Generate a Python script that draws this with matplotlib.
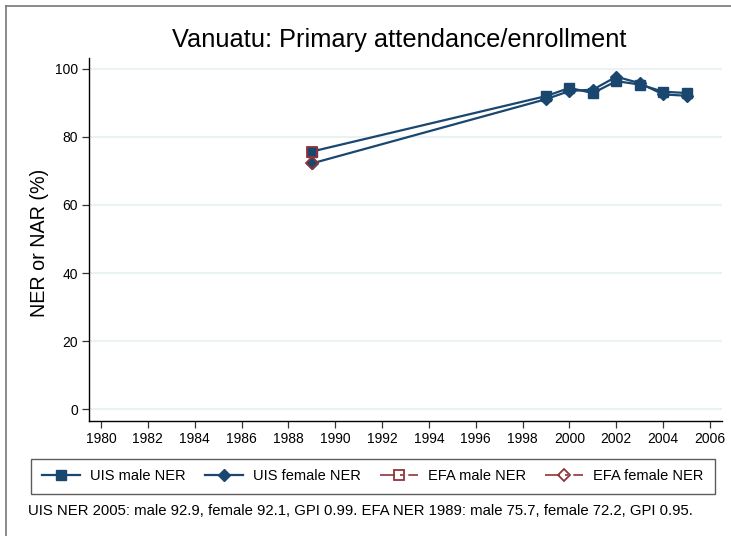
import matplotlib
matplotlib.use("Agg")
import matplotlib.pyplot as plt
from matplotlib.lines import Line2D

plt.rcParams['font.family'] = ['Liberation Sans', 'DejaVu Sans']

years_uis = [1989, 1999, 2000, 2001, 2002, 2003, 2004, 2005]
uis_male = [75.7, 92.0, 94.4, 92.9, 96.4, 95.4, 93.3, 92.9]
uis_female = [72.2, 91.1, 93.5, 93.9, 97.7, 95.8, 92.5, 92.1]
years_efa = [1989]
efa_male = [75.7]
efa_female = [72.2]

title = "Vanuatu: Primary attendance/enrollment"
ylabel = "NER or NAR (%)"
xticks = list(range(1980, 2007, 2))
yticks = [0, 20, 40, 60, 80, 100]
legend_labels = ["UIS male NER", "UIS female NER", "EFA male NER", "EFA female NER"]
note_a = "UIS NER 2005: male 92.9, female 92.1, GPI 0.99. "
note_b = "EFA NER 1989: male 75.7, female 72.2, GPI 0.95."

navy = "#1a476f"
maroon = "#90353b"
grid_c = "#eaf2f3"

W, H = 731, 536
fig = plt.figure(figsize=(W / 100, H / 100), dpi=100)
fig.patch.set_facecolor("white")

# outer frame (top and left edges visible)
fig.add_artist(Line2D([6 / W, 1.0], [1 - 5.5 / H, 1 - 5.5 / H], color="#777777", lw=1.2,
                      transform=fig.transFigure))
fig.add_artist(Line2D([6 / W, 6 / W], [0.0, 1 - 5.5 / H], color="#777777", lw=1.2,
                      transform=fig.transFigure))

ax = fig.add_axes([89 / W, 1 - 421 / H, (722 - 89) / W, (421 - 58) / H])
ax.set_xlim(1979.49, 2006.51)
ax.set_ylim(-3.5, 103.2)

efa_ls = (0, (9, 3, 2, 3))
ax.plot(years_uis, uis_male, color=navy, lw=1.6, marker="s", ms=7,
        mfc=navy, mec=navy, label=legend_labels[0], zorder=3)
ax.plot(years_uis, uis_female, color=navy, lw=1.6, marker="D", ms=6.5,
        mfc=navy, mec=navy, label=legend_labels[1], zorder=3)
ax.plot(years_efa, efa_male, color=maroon, lw=1.2, ls=efa_ls, marker="s", ms=7,
        mfc="none", mec=maroon, mew=1.3, label=legend_labels[2], zorder=4)
ax.plot(years_efa, efa_female, color=maroon, lw=1.2, ls=efa_ls, marker="D", ms=6.5,
        mfc="none", mec=maroon, mew=1.3, label=legend_labels[3], zorder=4)

ax.set_xticks(xticks)
ax.set_yticks(yticks)
ax.grid(axis="y", color=grid_c, lw=1.5, zorder=0)
ax.set_axisbelow(True)
for s in ["top", "right"]:
    ax.spines[s].set_visible(False)
for s in ["left", "bottom"]:
    ax.spines[s].set_linewidth(1.0)
    ax.spines[s].set_color("black")
ax.tick_params(axis="both", labelsize=10, length=5, width=0.9, color="#333333",
               labelcolor="black", pad=3)

renderer = fig.canvas.get_renderer()


def fit(t, target, horizontal=True):
    bb = t.get_window_extent(renderer=renderer)
    cur = bb.width if horizontal else bb.height
    t.set_fontsize(t.get_fontsize() * target / cur)


t_title = fig.text(399.4 / W, 1 - 47.5 / H, title, ha="center", va="baseline", fontsize=18)
fit(t_title, 453)

t_ylab = fig.text(40 / W, 1 - 243 / H, ylabel, ha="center", va="center",
                  rotation=90, fontsize=13)
fit(t_ylab, 148, horizontal=False)

leg = fig.legend(loc="center", bbox_to_anchor=(372.9 / W, 1 - 476.5 / H),
                 ncol=4, fontsize=10.5, frameon=True, fancybox=False,
                 edgecolor="#333333", handlelength=2.6, columnspacing=1.3,
                 handletextpad=0.7, borderpad=0.75)
leg.get_frame().set_linewidth(1.0)

probe = fig.text(28 / W, 1 - 511 / H, note_a, ha="left", va="center", fontsize=10)
fit(probe, 332)
fs_note = probe.get_fontsize()
probe.remove()
fig.text(28 / W, 1 - 511 / H, note_a + note_b, ha="left", va="center", fontsize=fs_note)

fig.savefig("out.png", dpi=100, facecolor="white")
